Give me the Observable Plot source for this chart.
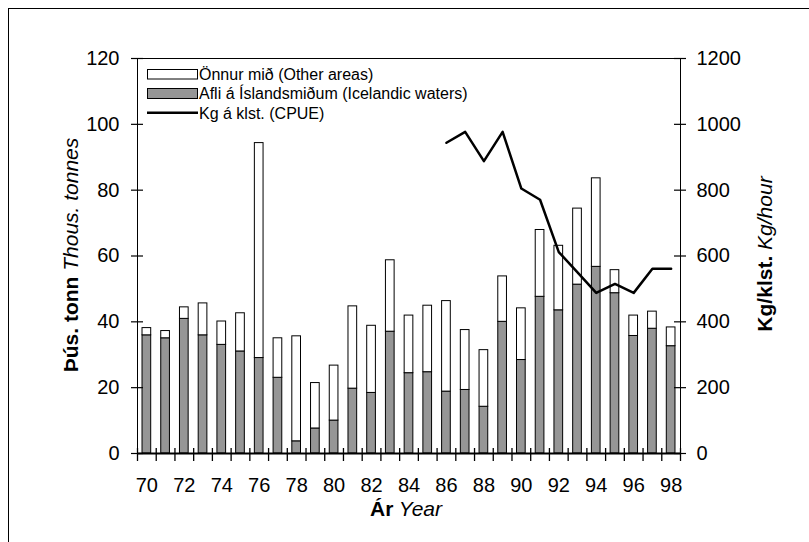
<!DOCTYPE html>
<html>
<head>
<meta charset="utf-8">
<script src="https://cdn.jsdelivr.net/npm/d3@7"></script>
<script src="https://cdn.jsdelivr.net/npm/@observablehq/plot@0.6"></script>
<style>
  body { margin: 0; background: #fff; }
  #chart svg { display: block; }
</style>
</head>
<body>
<div id="chart"></div>
<script>
// ---- data ----
const years = [70,71,72,73,74,75,76,77,78,79,80,81,82,83,84,85,86,87,88,89,90,91,92,93,94,95,96,97,98];
const icelandicWaters = [35.9,35.0,40.9,35.9,33.0,31.0,29.0,23.0,3.7,7.6,10.0,19.7,18.4,37.0,24.4,24.7,18.8,19.3,14.2,40.0,28.4,47.6,43.5,51.3,56.7,48.7,35.7,37.9,32.6];
const otherAreas = [2.2,2.2,3.5,9.7,7.1,11.6,65.3,12.0,31.9,13.8,16.7,25.0,20.4,21.7,17.5,20.2,27.5,18.2,17.2,13.8,15.7,20.3,19.6,23.1,26.9,7.0,6.2,5.2,5.7];
const cpueYears = [86,87,88,89,90,91,92,93,94,95,96,97,98];
const cpue = [944,977,888,977,805,771,612,550,488,515,488,561,561];

const leftTicks = [0,20,40,60,80,100,120];
const rightTicks = [0,200,400,600,800,1000,1200];
const xLabelYears = [70,72,74,76,78,80,82,84,86,88,90,92,94,96,98];
const xBoundaries = [69.5,70.5,71.5,72.5,73.5,74.5,75.5,76.5,77.5,78.5,79.5,80.5,81.5,82.5,83.5,84.5,85.5,86.5,87.5,88.5,89.5,90.5,91.5,92.5,93.5,94.5,95.5,96.5,97.5,98.5];
const legendLabels = ["Önnur mið (Other areas)", "Afli á Íslandsmiðum (Icelandic waters)", "Kg á klst. (CPUE)"];
const yTitleBold = "Þús. tonn", yTitleItalic = "Thous. tonnes";
const y2TitleBold = "Kg/klst.", y2TitleItalic = "Kg/hour";
const xTitleBold = "Ár", xTitleItalic = "Year";

const cpueRatio = 10; // right axis = left axis * 10
const halfBar = 0.232;
const xMin = 69.5, xMax = 98.5;

const table = years.map((y, i) => ({year: y, ice: icelandicWaters[i], other: otherAreas[i]}));
const cpueTable = cpueYears.map((y, i) => ({year: y, cpue: cpue[i]}));

const font = "'Liberation Sans', Arial, Helvetica, sans-serif";

// tick lengths expressed in data units (plot area 543px wide for 29 years, 395px tall for 120)
const tickHalfX = 6 * (xMax - xMin) / 543;
const tickUpY = 5 * 120 / 395, tickDownY = 8 * 120 / 395;

const chart = Plot.plot({
  width: 809,
  height: 542,
  marginLeft: 137,
  marginRight: 129,
  marginTop: 58,
  marginBottom: 89,
  style: {fontFamily: font, fontSize: "20px", color: "#000", background: "#fff"},
  x: {domain: [xMin, xMax]},
  y: {domain: [0, 120]},
  marks: [
    Plot.rect(table, {x1: d => d.year - halfBar, x2: d => d.year + halfBar, y1: 0, y2: "ice", fill: "#969696", stroke: "#000", strokeWidth: 1}),
    Plot.rect(table, {x1: d => d.year - halfBar, x2: d => d.year + halfBar, y1: "ice", y2: d => d.ice + d.other, fill: "#fff", stroke: "#000", strokeWidth: 1}),
    Plot.line(cpueTable, {x: "year", y: d => d.cpue / cpueRatio, stroke: "#000", strokeWidth: 2.5}),
    Plot.frame({stroke: "#000", strokeWidth: 1}),
    Plot.ruleY([0], {stroke: "#000", strokeWidth: 2}),
    // tick marks straddling the axis lines
    Plot.ruleY(leftTicks, {y: d => d, x1: xMin - tickHalfX, x2: xMin + tickHalfX, stroke: "#000", strokeWidth: 1.2}),
    Plot.ruleY(rightTicks.map(v => v / cpueRatio), {y: d => d, x1: xMax - tickHalfX, x2: xMax + tickHalfX, stroke: "#000", strokeWidth: 1.2}),
    Plot.ruleX(xBoundaries, {x: d => d, y1: -tickDownY, y2: tickUpY, stroke: "#000", strokeWidth: 1.3}),
    // tick labels
    Plot.axisY({ticks: leftTicks, tickSize: 0, tickPadding: 18, label: null}),
    Plot.axisY({anchor: "right", ticks: rightTicks.map(v => v / cpueRatio), tickSize: 0, tickPadding: 16, tickFormat: d => String(Math.round(d * cpueRatio)), label: null}),
    Plot.axisX({ticks: xLabelYears, tickSize: 0, tickPadding: 24, label: null})
  ]
});

document.getElementById("chart").appendChild(chart);

const svg = d3.select(chart);

// outer border
svg.append("rect")
  .attr("x", 8.5).attr("y", 8.5).attr("width", 830).attr("height", 620)
  .attr("fill", "none").attr("stroke", "#000").attr("stroke-width", 1);

// legend
const lg = svg.append("g").attr("font-family", font).attr("font-size", 16).attr("fill", "#000").attr("text-anchor", "start");
lg.append("rect").attr("x", 147.5).attr("y", 69.5).attr("width", 50).attr("height", 9.5)
  .attr("fill", "#fff").attr("stroke", "#000");
lg.append("rect").attr("x", 147.5).attr("y", 88.5).attr("width", 50).attr("height", 10)
  .attr("fill", "#969696").attr("stroke", "#000");
lg.append("line").attr("x1", 147).attr("x2", 198).attr("y1", 112.7).attr("y2", 112.7)
  .attr("stroke", "#000").attr("stroke-width", 2.5);
const legendY = [74, 93.5, 113];
legendLabels.forEach((t, i) => {
  lg.append("text").attr("x", 199).attr("y", legendY[i]).attr("dy", "0.35em").attr("text-anchor", "start").text(t);
});

// axis titles (bold + italic parts)
function title(x, y, rot, bold, italic, size) {
  const t = svg.append("text")
    .attr("transform", `translate(${x},${y}) rotate(${rot})`)
    .attr("text-anchor", "middle")
    .attr("font-family", font)
    .attr("font-size", size)
    .attr("fill", "#000");
  t.append("tspan").attr("font-weight", "bold").text(bold);
  t.append("tspan").attr("font-style", "italic").text(" " + italic);
}
title(78, 255, -90, yTitleBold, yTitleItalic, 21);
title(772, 254, -90, y2TitleBold, y2TitleItalic, 21);
title(406, 516, 0, xTitleBold, xTitleItalic, 21);
</script>
</body>
</html>
